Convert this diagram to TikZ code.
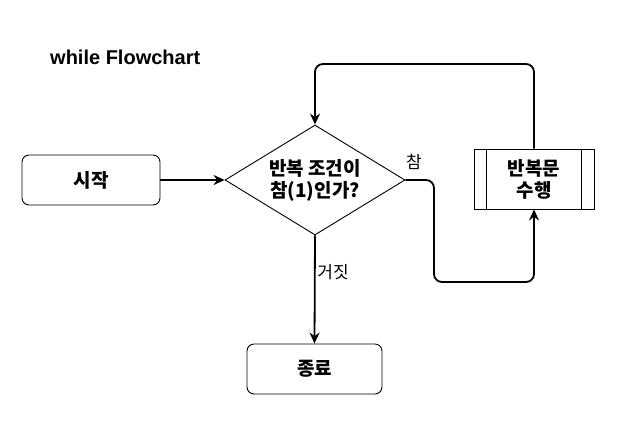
\documentclass[tikz,border=0pt]{standalone}
\usepackage{fontspec}
\setmainfont{Liberation Sans}
\newfontfamily\kr{Noto Sans CJK KR}
\usetikzlibrary{shapes.geometric,arrows.meta}

\begin{document}
\begin{tikzpicture}[x=1pt, y=-1pt,
    box/.style={draw, line width=0.9pt, rounded corners=7pt, minimum width=138pt, minimum height=50pt, font=\kr\bfseries\fontsize{19}{22}\selectfont},
    decision/.style={draw, line width=0.9pt, diamond, aspect=1.64, inner sep=0pt, minimum width=180pt, minimum height=110pt, align=center, font=\kr\bfseries\fontsize{19}{22}\selectfont},
    process/.style={draw, line width=0.9pt, rectangle, minimum width=120pt, minimum height=60pt, align=center, font=\kr\bfseries\fontsize{19}{22}\selectfont},
    flow/.style={line width=1.8pt, rounded corners=8pt, -{Stealth[length=11pt,width=10pt]}},
    lbl/.style={font=\kr\fontsize{17}{19}\selectfont}]

    % Page size
    \def\W{621}
    \def\H{432}
    \useasboundingbox (0,0) rectangle (\W,\H);
    \def\bar{13}

    % Title
    \node[anchor=west, inner sep=0pt, font=\bfseries\fontsize{20}{24}\selectfont] (title) at (50,57) {while Flowchart};

    % Nodes
    \node[box] (start) at (91,180) {시작};
    \node[decision] (cond) at (315,180) {반복 조건이\\참(1)인가?};
    \node[process] (body) at (534,179) {반복문\\수행};
    \node[box, minimum width=135pt] (stop) at (314.5,369) {종료};

    % Sub-process bars
    \draw[line width=0.9pt] ([xshift=\bar pt]body.north west) -- ([xshift=\bar pt]body.south west);
    \draw[line width=0.9pt] ([xshift=-\bar pt]body.north east) -- ([xshift=-\bar pt]body.south east);

    % Bends of the loop
    \coordinate (low) at (434,282);
    \coordinate (top) at (315,64);

    % Connectors
    \draw[flow] (start) -- (cond);
    \draw[flow] (cond.east) -| (low) -| (body.south);
    \draw[flow] (body.north) |- (top) -- (cond.north);
    \draw[flow] (cond.south) -- (stop.north);

    % Labels on connectors
    \node[lbl] (yes) at (414,162) {참};
    \node[lbl] (no) at (333,272) {거짓};

\end{tikzpicture}
\end{document}
